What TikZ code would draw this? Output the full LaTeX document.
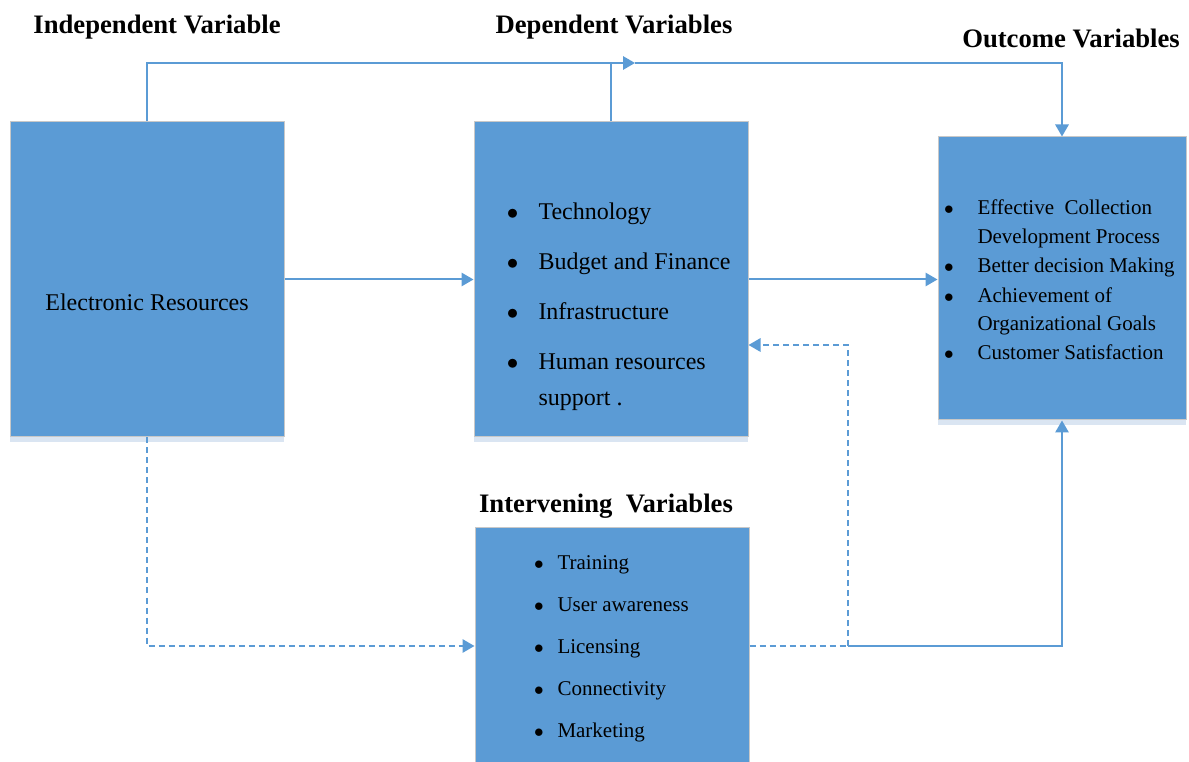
\documentclass[tikz,border=0pt]{standalone}
\usepackage{fontspec}
\setmainfont{Liberation Serif}
\usetikzlibrary{arrows.meta}

\definecolor{boxblue}{RGB}{91,155,213}
\definecolor{linkblue}{RGB}{91,155,213}
\definecolor{edgegray}{RGB}{200,200,200}
\definecolor{stripblue}{RGB}{218,229,242}

\newcommand{\depbul}{\llap{$\bullet$\hspace{15pt}}}
\newcommand{\outbul}{\llap{$\bullet$\hspace{17.8pt}}}
\newcommand{\intbul}{\llap{$\bullet$\hspace{10.3pt}}}

\tikzset{every picture/.style={line width=0.75pt}}
\tikzset{
  varbox/.style={draw=edgegray, fill=boxblue, line width=0.75pt, inner sep=0pt},
  heading/.style={font=\fontsize{20}{23}\selectfont\bfseries, yshift=-2.2pt},
  link/.style={draw=linkblue, line width=1.5pt},
  dashlink/.style={link, dash pattern=on 4.5pt off 3pt},
  flowtip/.style={-{Triangle[length=9pt,width=10pt]}},
  depitem/.style={anchor=west, inner sep=0pt, font=\fontsize{18}{21}\selectfont, text height=0.7em, text depth=0.2em, yshift=-3pt},
  outitem/.style={depitem, font=\fontsize{15.75}{18}\selectfont},
  intitem/.style={outitem}
}

\begin{document}
\begin{tikzpicture}[x=0.75pt,y=0.75pt,yscale=-1,xscale=1]
\useasboundingbox (0,0) rectangle (1189,762);

%Shape: strips under the boxes
\fill [stripblue] (10,437) rectangle (284,442) ;
\fill [stripblue] (474,437) rectangle (748,442) ;
\fill [stripblue] (938,420) rectangle (1186,425) ;

%Shape: Rectangle (independent)
\node [varbox, minimum width=205.5pt, minimum height=236.25pt] (er) at (147,279.5) {};
%Shape: Rectangle (dependent)
\node [varbox, minimum width=205.5pt, minimum height=236.25pt] (dep) at (611,279.5) {};
%Shape: Rectangle (outcome)
\node [varbox, minimum width=186pt, minimum height=212.25pt] (out) at (1062,278.5) {};
%Shape: Rectangle (intervening)
\node [varbox, minimum width=205.5pt, minimum height=177pt] (int) at (612,646) {};

% Text Node
\node [heading] (indephead) at (157,24) {Independent Variable};
% Text Node
\node [heading] (dephead) at (614,24) {Dependent Variables};
% Text Node
\node [heading, yshift=1.2pt] (outhead) at (1071,37) {Outcome Variables};
% Text Node
\node [heading] (inthead) at (606,503) {Intervening\ \ Variables};

% Text Node
\node [font=\fontsize{18}{21}\selectfont] (ertext) at (147,302) {Electronic Resources};

% Text Node
\node [depitem] (dep1) at (538,212) {\depbul Technology};
% Text Node
\node [depitem] (dep2) at (538,262) {\depbul Budget and Finance};
% Text Node
\node [depitem] (dep3) at (538,312) {\depbul Infrastructure};
% Text Node
\node [depitem] (dep4) at (538,362) {\depbul Human resources};
% Text Node
\node [depitem] (dep4b) at (538,398) {support .};

% Text Node
\node [outitem] (out1) at (977,207) {\outbul Effective\ \ Collection};
% Text Node
\node [outitem] (out1b) at (977,236) {Development Process};
% Text Node
\node [outitem] (out2) at (977,265) {\outbul Better decision Making};
% Text Node
\node [outitem] (out3) at (977,295) {\outbul Achievement of};
% Text Node
\node [outitem] (out3b) at (977,323) {Organizational Goals};
% Text Node
\node [outitem] (out4) at (977,352) {\outbul Customer Satisfaction};

% Text Node
\node [intitem] (int1) at (557,562) {\intbul Training};
% Text Node
\node [intitem] (int2) at (557,604) {\intbul User awareness};
% Text Node
\node [intitem] (int3) at (557,646) {\intbul Licensing};
% Text Node
\node [intitem] (int4) at (557,688) {\intbul Connectivity};
% Text Node
\node [intitem] (int5) at (557,730) {\intbul Marketing};

\coordinate (topmid) at (635,63);
\coordinate (junc) at (848,646);
\coordinate (turn) at (848,345);

%Straight Lines (top)
\draw [link, flowtip] (er.north) |- (topmid) ;
\draw [link, flowtip] (topmid) -| (out.north) ;
\draw [link] (dep.north) -- (dep.north |- topmid) ;
%Straight Lines (middle)
\draw [link, flowtip] (er.east) -- (dep.west) ;
\draw [link, flowtip] (dep.east) -- (dep.east -| out.west) ;
%Straight Lines (dashed)
\draw [dashlink, flowtip] (er.south) |- (int.west) ;
\draw [dashlink] (int.east) -- (junc) ;
\draw [dashlink, flowtip] (junc) -- (turn) -- (turn -| dep.east) ;
%Straight Lines (bottom)
\draw [link, flowtip] (junc) -| (out.south) ;

\end{tikzpicture}
\end{document}
